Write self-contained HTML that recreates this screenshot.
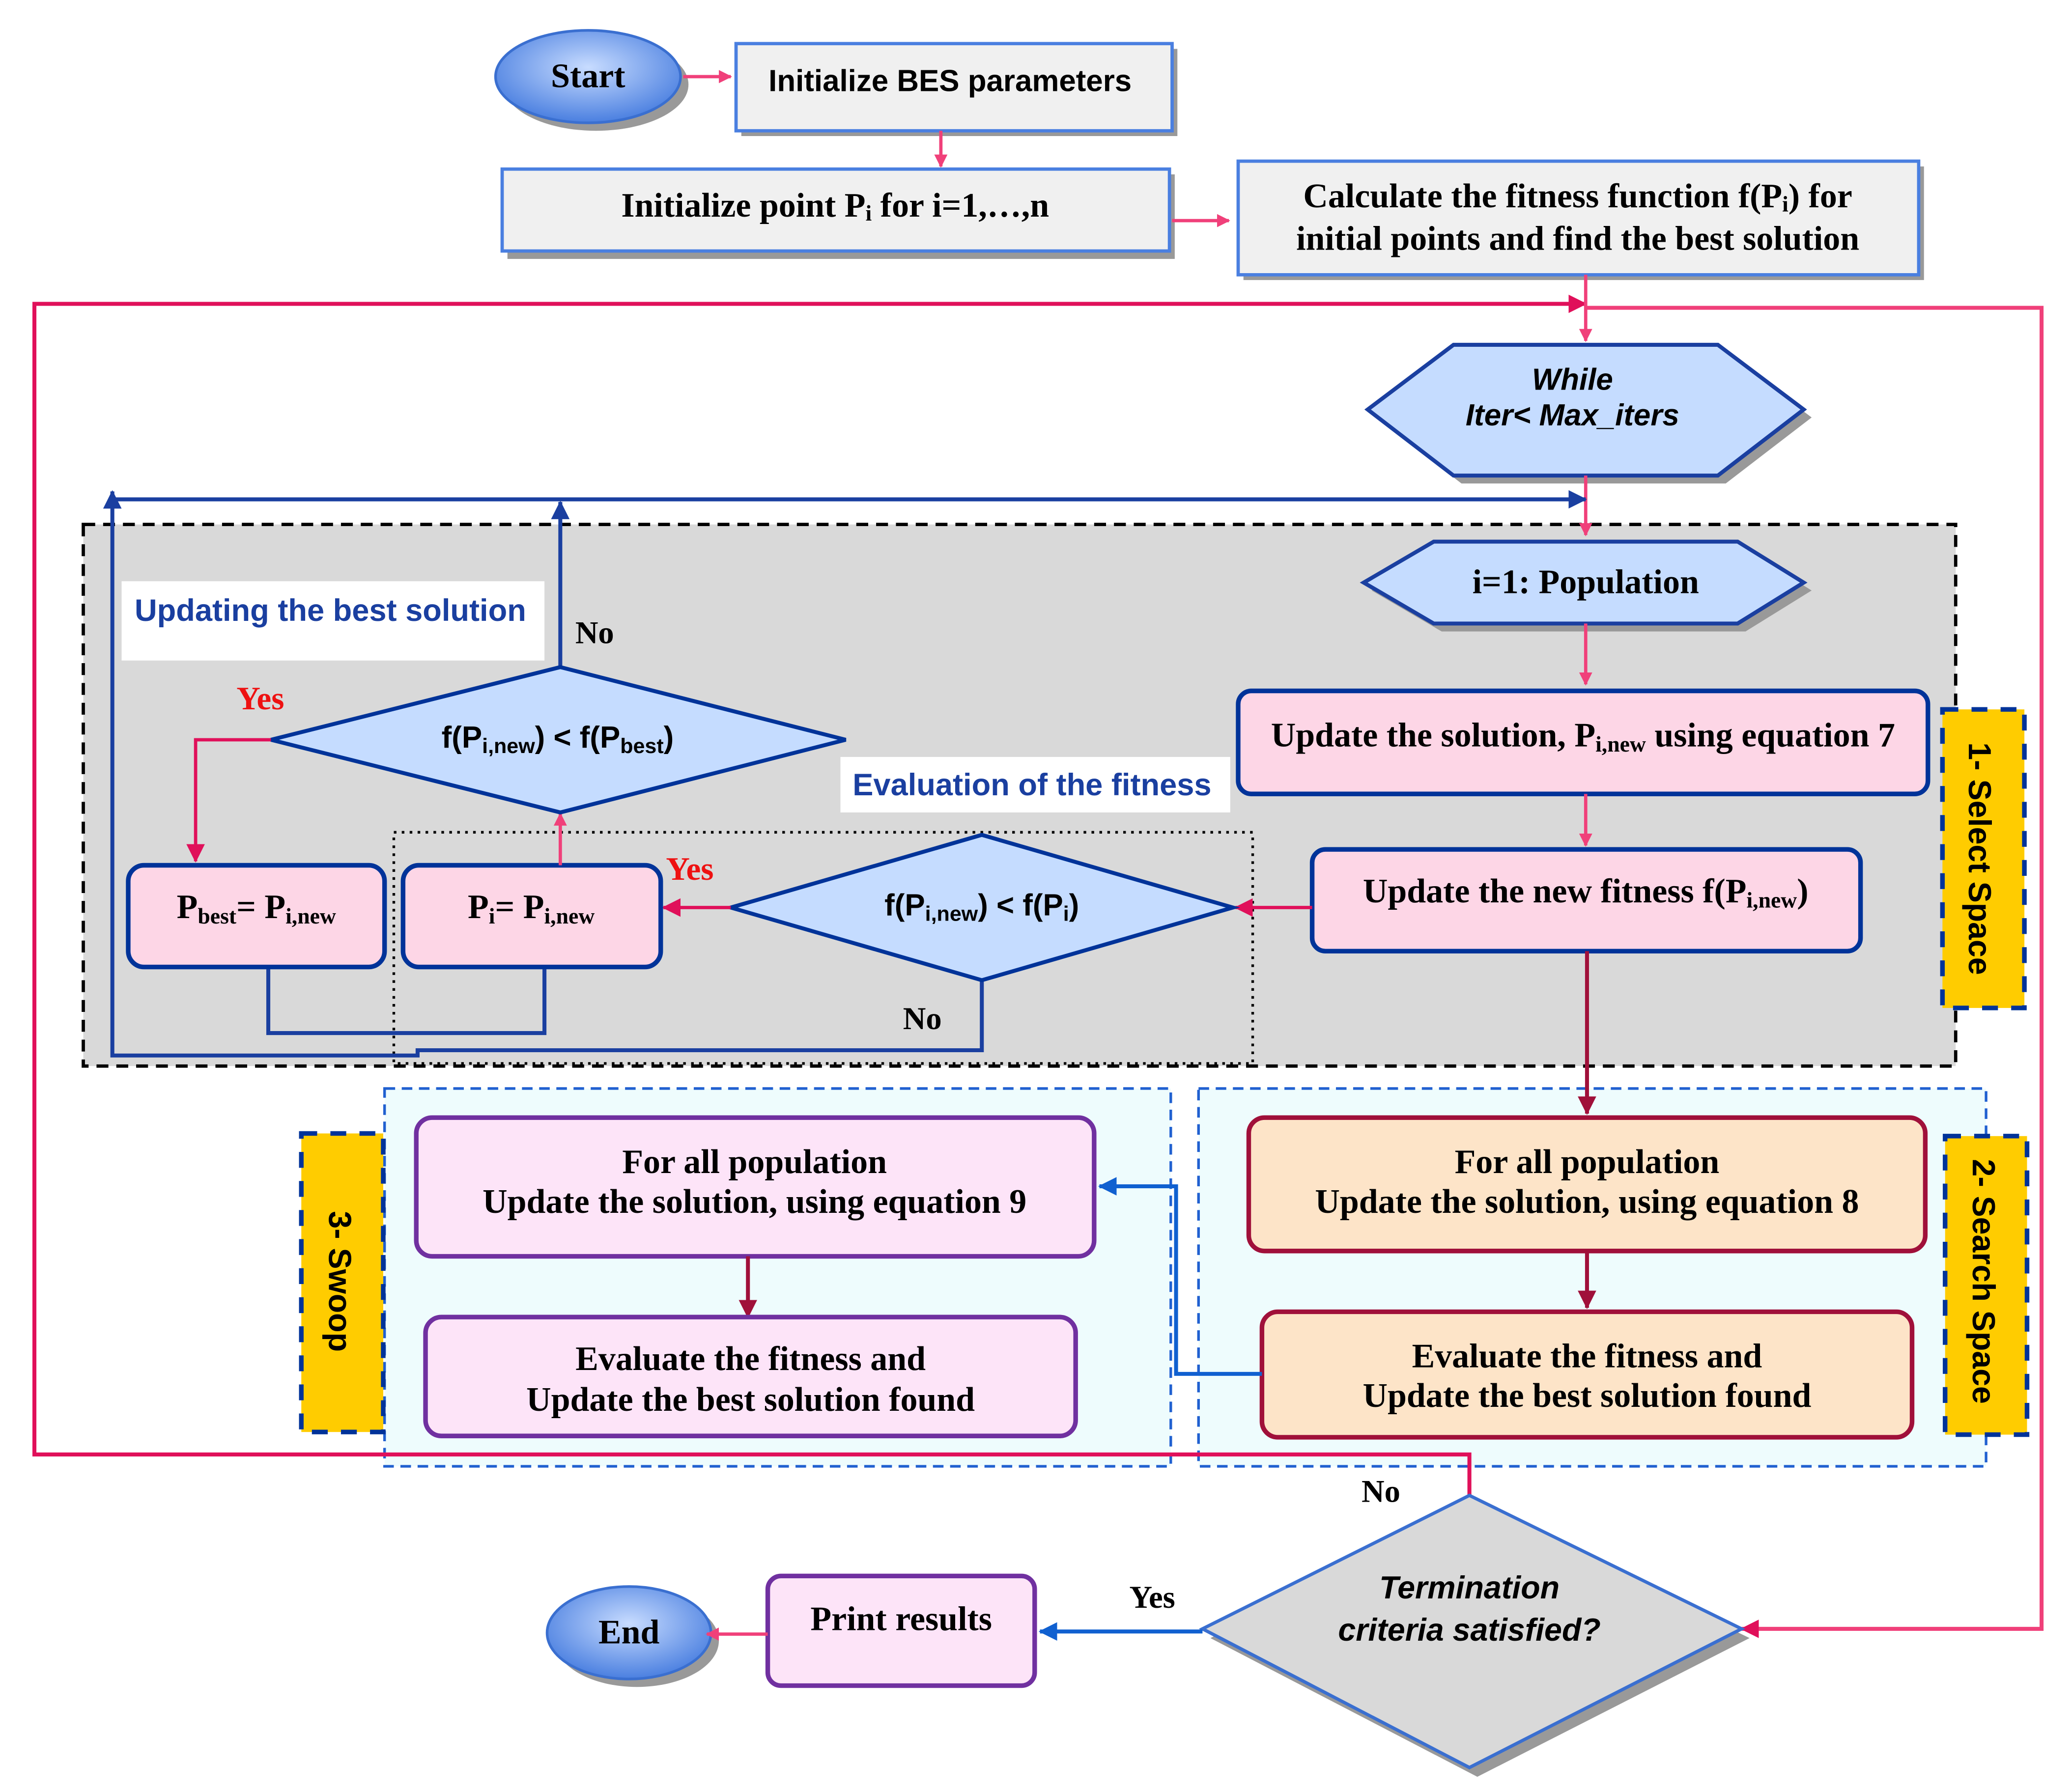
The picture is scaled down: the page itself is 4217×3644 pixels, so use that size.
<!DOCTYPE html>
<html><head><meta charset="utf-8"><style>html,body{margin:0;padding:0;background:#fff}svg{display:block}</style></head>
<body>
<svg xmlns="http://www.w3.org/2000/svg" width="4217" height="3644" viewBox="0 0 1568 1355">
<defs>
<radialGradient id="eg" cx="50%" cy="40%" r="60%"><stop offset="0" stop-color="#c8dcff"/><stop offset="1" stop-color="#4a7fe0"/></radialGradient>
<marker id="ap" markerWidth="10" markerHeight="10" refX="9" refY="5" orient="auto" markerUnits="userSpaceOnUse"><path d="M0,0 L10,5 L0,10 z" fill="#f0407a"/></marker>
<marker id="ar" markerWidth="14" markerHeight="14" refX="13" refY="7" orient="auto" markerUnits="userSpaceOnUse"><path d="M0,0 L14,7 L0,14 z" fill="#e0105a"/></marker>
<marker id="ad" markerWidth="14" markerHeight="14" refX="13" refY="7" orient="auto" markerUnits="userSpaceOnUse"><path d="M0,0 L14,7 L0,14 z" fill="#a0103a"/></marker>
<marker id="ab" markerWidth="14" markerHeight="14" refX="13" refY="7" orient="auto" markerUnits="userSpaceOnUse"><path d="M0,0 L14,7 L0,14 z" fill="#1a3fa0"/></marker>
<marker id="ab2" markerWidth="14" markerHeight="14" refX="13" refY="7" orient="auto" markerUnits="userSpaceOnUse"><path d="M0,0 L14,7 L0,14 z" fill="#1060d0"/></marker>
</defs>
<style>
.s{font-family:"Liberation Serif",serif;font-weight:bold;font-size:26px;fill:#000}
.a{font-family:"Liberation Sans",sans-serif;font-weight:bold;font-size:23px;fill:#000}
.bl{font-family:"Liberation Sans",sans-serif;font-weight:bold;font-size:23.5px;fill:#1a3fa0}
.red{font-family:"Liberation Serif",serif;font-weight:bold;font-size:25px;fill:#ee1111}
</style>

<rect x="63" y="397" width="1417" height="410" fill="#d9d9d9" stroke="#000" stroke-width="2.5" stroke-dasharray="9,6"/>
<rect x="291" y="824" width="595" height="286" fill="#eefcfd" stroke="#2060d0" stroke-width="2" stroke-dasharray="8,5"/>
<rect x="907" y="824" width="596" height="286" fill="#eefcfd" stroke="#2060d0" stroke-width="2" stroke-dasharray="8,5"/>
<rect x="298" y="630" width="650" height="175" fill="none" stroke="#000" stroke-width="2" stroke-dasharray="2,4"/>

<rect x="1470" y="537" width="62" height="226" fill="#ffcc00" stroke="#003399" stroke-width="3.5" stroke-dasharray="12,10"/>
<text class="a" transform="translate(1490,650) rotate(90)" text-anchor="middle" style="font-size:24px">1- Select Space</text>
<rect x="1472" y="860" width="62" height="226" fill="#ffcc00" stroke="#003399" stroke-width="3.5" stroke-dasharray="12,10"/>
<text class="a" transform="translate(1493,970) rotate(90)" text-anchor="middle" style="font-size:24px">2- Search Space</text>
<rect x="228" y="858" width="62" height="226" fill="#ffcc00" stroke="#003399" stroke-width="3.5" stroke-dasharray="12,10"/>
<text class="a" transform="translate(249,970) rotate(90)" text-anchor="middle" style="font-size:24px">3- Swoop</text>

<path d="M1112,1132 V1101 H26 V230 H1200" fill="none" stroke="#e0105a" stroke-width="3" marker-end="url(#ar)"/>
<path d="M1200,233 H1545 V1233 H1318" fill="none" stroke="#f0407a" stroke-width="3" marker-end="url(#ar)"/>

<ellipse cx="451" cy="64" rx="70" ry="35" fill="#999"/>
<ellipse cx="445" cy="58" rx="70" ry="35" fill="url(#eg)" stroke="#3a6fd0" stroke-width="2"/>
<text class="s" x="445" y="66" text-anchor="middle">Start</text>
<line x1="517" y1="58" x2="553" y2="58" stroke="#f0407a" stroke-width="2.5" marker-end="url(#ap)"/>

<rect x="561" y="37" width="330" height="66" fill="#999"/>
<rect x="557" y="33" width="330" height="66" fill="#f0f0f0" stroke="#4a7fe0" stroke-width="2.5"/>
<text class="a" x="719" y="69" text-anchor="middle">Initialize BES parameters</text>
<line x1="712" y1="99" x2="712" y2="126" stroke="#f0407a" stroke-width="2.5" marker-end="url(#ap)"/>

<rect x="384" y="132" width="505" height="64" fill="#999"/>
<rect x="380" y="128" width="505" height="62" fill="#f0f0f0" stroke="#4a7fe0" stroke-width="2.5"/>
<text class="s" x="632" y="164" text-anchor="middle">Initialize point P<tspan font-size="17" dy="3">i</tspan><tspan dy="-3"> for i=1,…,n</tspan></text>
<line x1="887" y1="167" x2="930" y2="167" stroke="#f0407a" stroke-width="2.5" marker-end="url(#ap)"/>

<rect x="941" y="126" width="515" height="86" fill="#999"/>
<rect x="937" y="122" width="515" height="86" fill="#f0f0f0" stroke="#4a7fe0" stroke-width="2.5"/>
<text class="s" x="1194" y="157" text-anchor="middle">Calculate the fitness function f(P<tspan font-size="17" dy="3">i</tspan><tspan dy="-3">) for</tspan></text>
<text class="s" x="1194" y="189" text-anchor="middle">initial points and find the best solution</text>
<line x1="1200" y1="208" x2="1200" y2="258" stroke="#f0407a" stroke-width="2.5" marker-end="url(#ap)"/>

<polygon points="1041,316 1106,267 1306,267 1371,316 1306,366 1106,366" fill="#999"/>
<polygon points="1035,310 1100,261 1300,261 1365,310 1300,360 1100,360" fill="#c5dcff" stroke="#1a3fa0" stroke-width="3"/>
<text class="a" x="1190" y="295" text-anchor="middle" font-style="italic">While</text>
<text class="a" x="1190" y="322" text-anchor="middle" font-style="italic">Iter&lt; Max_iters</text>
<line x1="1200" y1="360" x2="1200" y2="405" stroke="#f0407a" stroke-width="2.5" marker-end="url(#ap)"/>

<line x1="85" y1="378" x2="1200" y2="378" stroke="#1a3fa0" stroke-width="3" marker-end="url(#ab)"/>
<line x1="424" y1="505" x2="424" y2="380" stroke="#1a3fa0" stroke-width="3" marker-end="url(#ab)"/>
<path d="M743,742 V795 H316 V799 H85 V372" fill="none" stroke="#1a3fa0" stroke-width="3" marker-end="url(#ab)"/>
<path d="M203,732 V782 H412 V732" fill="none" stroke="#1a3fa0" stroke-width="3"/>

<polygon points="1038,447 1091,416 1321,416 1371,447 1321,478 1091,478" fill="#999"/>
<polygon points="1032,441 1085,410 1315,410 1365,441 1315,472 1085,472" fill="#c5dcff" stroke="#1a3fa0" stroke-width="3"/>
<text class="s" x="1200" y="449" text-anchor="middle">i=1: Population</text>
<line x1="1200" y1="472" x2="1200" y2="518" stroke="#f0407a" stroke-width="2.5" marker-end="url(#ap)"/>

<rect x="937" y="523" width="522" height="78" rx="10" fill="#fdd6e6" stroke="#003399" stroke-width="3.5"/>
<text class="s" x="1198" y="565" text-anchor="middle">Update the solution, P<tspan font-size="17" dy="4">i,new</tspan><tspan dy="-4">  using equation 7</tspan></text>
<line x1="1200" y1="601" x2="1200" y2="640" stroke="#f0407a" stroke-width="2.5" marker-end="url(#ap)"/>

<rect x="993" y="643" width="415" height="77" rx="10" fill="#fdd6e6" stroke="#003399" stroke-width="3.5"/>
<text class="s" x="1200" y="683" text-anchor="middle">Update the new fitness f(P<tspan font-size="17" dy="4">i,new</tspan><tspan dy="-4">)</tspan></text>
<line x1="1201" y1="720" x2="1201" y2="843" stroke="#a0103a" stroke-width="3" marker-end="url(#ad)"/>
<line x1="993" y1="687" x2="935" y2="687" stroke="#e0105a" stroke-width="2.5" marker-end="url(#ar)"/>

<rect x="636" y="573" width="295" height="42" fill="#fff"/>
<text class="bl" x="781" y="602" text-anchor="middle">Evaluation of the fitness</text>
<polygon points="553,687 743,632 933,687 743,742" fill="#c5dcff" stroke="#003399" stroke-width="3"/>
<text class="a" x="743" y="693" text-anchor="middle">f(P<tspan font-size="16" dy="4">i,new</tspan><tspan dy="-4">) &lt; f(P</tspan><tspan font-size="16" dy="4">i</tspan><tspan dy="-4">)</tspan></text>
<line x1="553" y1="687" x2="502" y2="687" stroke="#e0105a" stroke-width="2.5" marker-end="url(#ar)"/>
<text class="red" x="522" y="666" text-anchor="middle">Yes</text>
<text class="s" x="698" y="779" text-anchor="middle" style="font-size:24px">No</text>

<rect x="305" y="655" width="195" height="77" rx="12" fill="#fdd6e6" stroke="#003399" stroke-width="3.5"/>
<text class="s" x="402" y="695" text-anchor="middle">P<tspan font-size="17" dy="4">i</tspan><tspan dy="-4">= P</tspan><tspan font-size="17" dy="4">i,new</tspan></text>
<rect x="97" y="655" width="194" height="77" rx="12" fill="#fdd6e6" stroke="#003399" stroke-width="3.5"/>
<text class="s" x="194" y="695" text-anchor="middle">P<tspan font-size="17" dy="4">best</tspan><tspan dy="-4">= P</tspan><tspan font-size="17" dy="4">i,new</tspan></text>

<line x1="424" y1="655" x2="424" y2="616" stroke="#f0407a" stroke-width="2.5" marker-end="url(#ap)"/>
<polygon points="205,560 424,505 640,560 424,615" fill="#c5dcff" stroke="#003399" stroke-width="3"/>
<text class="a" x="422" y="566" text-anchor="middle">f(P<tspan font-size="16" dy="4">i,new</tspan><tspan dy="-4">) &lt; f(P</tspan><tspan font-size="16" dy="4">best</tspan><tspan dy="-4">)</tspan></text>
<path d="M205,560 H148 V652" fill="none" stroke="#e0105a" stroke-width="2.5" marker-end="url(#ar)"/>
<text class="red" x="197" y="537" text-anchor="middle">Yes</text>
<text class="s" x="450" y="487" text-anchor="middle" style="font-size:24px">No</text>

<rect x="92" y="440" width="320" height="60" fill="#fff"/>
<text class="bl" x="250" y="470" text-anchor="middle">Updating the best solution</text>

<rect x="945" y="846" width="512" height="101" rx="12" fill="#fde4c8" stroke="#a0103a" stroke-width="3.5"/>
<text class="s" x="1201" y="888" text-anchor="middle">For all population</text>
<text class="s" x="1201" y="918" text-anchor="middle">Update the solution, using equation 8</text>
<line x1="1201" y1="947" x2="1201" y2="990" stroke="#a0103a" stroke-width="3" marker-end="url(#ad)"/>
<rect x="955" y="993" width="492" height="95" rx="12" fill="#fde4c8" stroke="#a0103a" stroke-width="3.5"/>
<text class="s" x="1201" y="1035" text-anchor="middle">Evaluate the fitness and</text>
<text class="s" x="1201" y="1065" text-anchor="middle">Update the best solution found</text>

<path d="M955,1040 H890 V898 H832" fill="none" stroke="#1060d0" stroke-width="3" marker-end="url(#ab2)"/>

<rect x="315" y="846" width="513" height="105" rx="12" fill="#fde4f8" stroke="#7030a0" stroke-width="3.5"/>
<text class="s" x="571" y="888" text-anchor="middle">For all population</text>
<text class="s" x="571" y="918" text-anchor="middle">Update the solution, using equation 9</text>
<line x1="566" y1="951" x2="566" y2="997" stroke="#a0103a" stroke-width="3" marker-end="url(#ad)"/>
<rect x="322" y="997" width="492" height="90" rx="12" fill="#fde4f8" stroke="#7030a0" stroke-width="3.5"/>
<text class="s" x="568" y="1037" text-anchor="middle">Evaluate the fitness and</text>
<text class="s" x="568" y="1068" text-anchor="middle">Update the best solution found</text>

<polygon points="916,1240 1118,1139 1324,1240 1118,1345" fill="#999"/>
<polygon points="910,1233 1112,1132 1318,1233 1112,1338" fill="#d9d9d9" stroke="#3a6fd0" stroke-width="2.5"/>
<text class="a" x="1112" y="1210" text-anchor="middle" font-style="italic" style="font-size:24px">Termination</text>
<text class="a" x="1112" y="1242" text-anchor="middle" font-style="italic" style="font-size:24px">criteria satisfied?</text>
<text class="s" x="1045" y="1137" text-anchor="middle" style="font-size:24px">No</text>
<line x1="910" y1="1235" x2="787" y2="1235" stroke="#1060d0" stroke-width="3" marker-end="url(#ab2)"/>
<text class="s" x="872" y="1217" text-anchor="middle" style="font-size:24px">Yes</text>

<rect x="581" y="1193" width="202" height="83" rx="10" fill="#fde4f8" stroke="#7030a0" stroke-width="3.5"/>
<text class="s" x="682" y="1234" text-anchor="middle">Print results</text>

<ellipse cx="482" cy="1242" rx="62" ry="35" fill="#999"/>
<ellipse cx="476" cy="1236" rx="62" ry="35" fill="url(#eg)" stroke="#3a6fd0" stroke-width="2"/>
<text class="s" x="476" y="1244" text-anchor="middle">End</text>
<line x1="581" y1="1237" x2="535" y2="1237" stroke="#f0407a" stroke-width="2.5" marker-end="url(#ap)"/>
</svg>
</body></html>
